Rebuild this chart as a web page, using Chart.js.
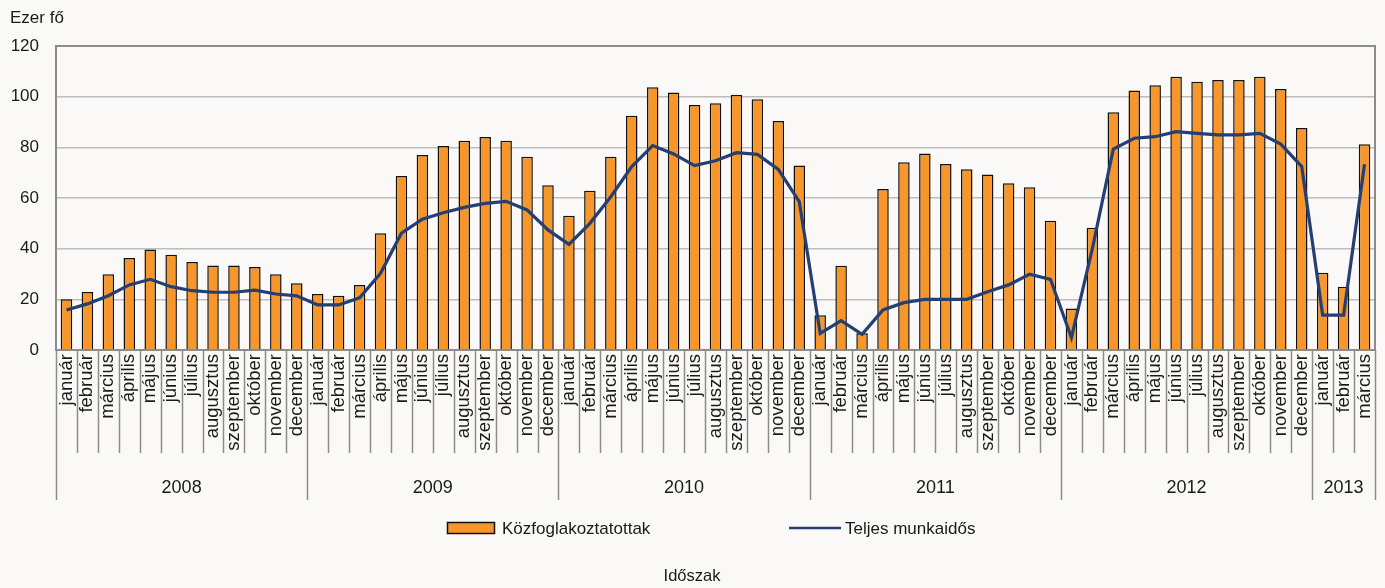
<!DOCTYPE html>
<html>
<head>
<meta charset="utf-8">
<script src="https://cdn.jsdelivr.net/npm/chart.js@4.4.1/dist/chart.umd.min.js"></script>
<style>
  html, body { margin: 0; padding: 0; background: #FBF8F8; }
  #wrap { position: relative; width: 1385px; height: 588px; }
</style>
</head>
<body>
<div id="wrap"><canvas id="c"></canvas></div>
<script>
// ---- Data ----
const monthNames = ['január','február','március','április','május','június','július','augusztus','szeptember','október','november','december'];
const years = ['2008','2009','2010','2011','2012','2013'];
const monthsPerYear = [12, 12, 12, 12, 12, 3];

const kozfoglalkoztatottak = [
  20.0, 22.9, 29.9, 36.3, 39.7, 37.6, 34.7, 33.4, 33.4, 32.8, 29.9, 26.3,
  22.1, 21.4, 25.7, 46.1, 68.7, 77.0, 80.5, 82.6, 84.1, 82.6, 76.3, 65.0,
  53.0, 62.9, 76.3, 92.5, 103.7, 101.6, 96.7, 97.4, 100.8, 99.0, 90.4, 72.8,
  13.7, 33.3, 6.6, 63.6, 74.1, 77.6, 73.4, 71.3, 69.3, 65.8, 64.2, 51.0,
  16.4, 48.3, 93.8, 102.4, 104.5, 107.9, 105.9, 106.6, 106.6, 107.9, 103.0, 87.6,
  30.5, 25.0, 81.2
];
const teljesMunkaidos = [
  15.8, 18.2, 21.4, 25.7, 27.9, 25.0, 23.4, 22.8, 22.8, 23.6, 22.1, 21.4,
  17.8, 17.8, 20.6, 30.3, 46.1, 51.6, 54.2, 56.3, 57.9, 58.7, 55.3, 47.4,
  41.7, 50.0, 60.5, 72.4, 80.7, 77.4, 72.8, 74.7, 77.9, 77.2, 71.3, 58.6,
  6.6, 11.6, 6.2, 15.8, 18.7, 20.0, 20.0, 20.0, 23.0, 25.7, 29.9, 27.9,
  4.9, 40.0, 79.3, 83.6, 84.2, 86.2, 85.5, 84.9, 84.9, 85.5, 81.3, 72.4,
  13.8, 13.8, 73.3
];
const yTicks = [0, 20, 40, 60, 80, 100, 120];
const seriesNames = ['Közfoglakoztatottak', 'Teljes munkaidős'];
const yUnit = 'Ezer fő';
const xTitle = 'Időszak';

// build category labels from months per year
const labels = [];
monthsPerYear.forEach(n => { for (let i = 0; i < n; i++) labels.push(monthNames[i]); });

// ---- Styles ----
const FONT = '"Liberation Sans", Arial, sans-serif';
const ORANGE = '#F7962A';
const NAVY = '#253F73';
const AXIS = '#8C8C8C';
const GRID = '#BDBDBD';
const TEXT = '#1A1A1A';

const decor = {
  id: 'decor',
  beforeDraw(chart) {
    const ctx = chart.ctx;
    ctx.save();
    ctx.fillStyle = '#FBF8F8';
    ctx.fillRect(0, 0, chart.width, chart.height);
    ctx.restore();
  },
  beforeDatasetsDraw(chart) {
    const { ctx, chartArea: a } = chart;
    ctx.save();
    ctx.strokeStyle = AXIS;
    ctx.lineWidth = 2;
    ctx.beginPath();
    ctx.moveTo(a.left, a.top); ctx.lineTo(a.right, a.top); ctx.lineTo(a.right, a.bottom);
    ctx.stroke();
    ctx.restore();
  },
  afterDraw(chart) {
    const { ctx, chartArea: a } = chart;
    const xs = chart.scales.x;
    ctx.save();
    // separators below axis
    ctx.strokeStyle = AXIS;
    ctx.lineWidth = 1.5;
    const n = labels.length;
    const boundary = i => (i === 0) ? a.left : (i === n ? a.right : (xs.getPixelForValue(i - 1) + xs.getPixelForValue(i)) / 2);
    const yearStarts = new Set();
    let acc = 0;
    monthsPerYear.forEach(m => { yearStarts.add(acc); acc += m; });
    yearStarts.add(n);
    for (let i = 0; i <= n; i++) {
      const x = Math.round(boundary(i)) + 0.5;
      const y2 = yearStarts.has(i) ? a.bottom + 150 : a.bottom + 103;
      ctx.beginPath();
      ctx.moveTo(x, a.bottom);
      ctx.lineTo(x, y2);
      ctx.stroke();
    }
    // year labels
    ctx.fillStyle = TEXT;
    ctx.font = '18px ' + FONT;
    ctx.textAlign = 'center';
    ctx.textBaseline = 'middle';
    acc = 0;
    monthsPerYear.forEach((m, k) => {
      const cx = (boundary(acc) + boundary(acc + m)) / 2;
      ctx.fillText(years[k], cx, a.bottom + 138);
      acc += m;
    });
    // y unit
    ctx.font = '17px ' + FONT;
    ctx.textAlign = 'left';
    ctx.fillText(yUnit, 10, 18);
    // x title
    ctx.textAlign = 'center';
    ctx.font = '16.5px ' + FONT;
    ctx.fillText(xTitle, 692, 576);
    // legend
    const ly = 529;
    ctx.fillStyle = ORANGE;
    ctx.fillRect(447, 522, 48, 12);
    ctx.strokeStyle = '#111';
    ctx.lineWidth = 1.5;
    ctx.strokeRect(447.5, 522.5, 47, 11);
    ctx.fillStyle = TEXT;
    ctx.textAlign = 'left';
    ctx.font = '17px ' + FONT;
    ctx.fillText(seriesNames[0], 502, ly);
    ctx.strokeStyle = NAVY;
    ctx.lineWidth = 2.5;
    ctx.beginPath();
    ctx.moveTo(789, 528); ctx.lineTo(841, 528);
    ctx.stroke();
    ctx.fillText(seriesNames[1], 845, ly);
    ctx.restore();
  }
};

new Chart(document.getElementById('c'), {
  data: {
    labels: labels,
    datasets: [
      {
        type: 'line',
        label: seriesNames[1],
        data: teljesMunkaidos,
        borderColor: NAVY,
        borderWidth: 3.2,
        pointRadius: 0,
        tension: 0,
        order: 0
      },
      {
        type: 'bar',
        label: seriesNames[0],
        data: kozfoglalkoztatottak,
        backgroundColor: ORANGE,
        borderColor: '#111',
        borderWidth: 1.5,
        barPercentage: 0.55,
        categoryPercentage: 1.0,
        order: 1
      }
    ]
  },
  options: {
    responsive: true,
    maintainAspectRatio: false,
    animation: false,
    layout: { padding: { top: 46, right: 10, left: 0, bottom: 0 } },
    plugins: {
      legend: { display: false },
      tooltip: { enabled: false },
      title: { display: false }
    },
    scales: {
      x: {
        type: 'category',
        offset: true,
        grid: { display: false, drawTicks: false },
        border: { display: true, color: AXIS, width: 2 },
        ticks: {
          autoSkip: false,
          maxRotation: 90,
          minRotation: 90,
          padding: 4,
          color: TEXT,
          font: { family: FONT, size: 18.5 }
        },
        afterFit(scale) { scale.height = 238; scale.paddingRight = 0; scale.paddingLeft = 0; }
      },
      y: {
        min: 0,
        max: 120,
        afterBuildTicks(scale) { scale.ticks = yTicks.map(v => ({ value: v })); },
        grid: { color: GRID, lineWidth: 1.5, drawTicks: false },
        border: { display: true, color: AXIS, width: 2 },
        ticks: {
          padding: 17,
          color: TEXT,
          font: { family: FONT, size: 17 }
        },
        afterFit(scale) { scale.width = 56; }
      }
    }
  },
  plugins: [decor]
});
</script>
</body>
</html>
